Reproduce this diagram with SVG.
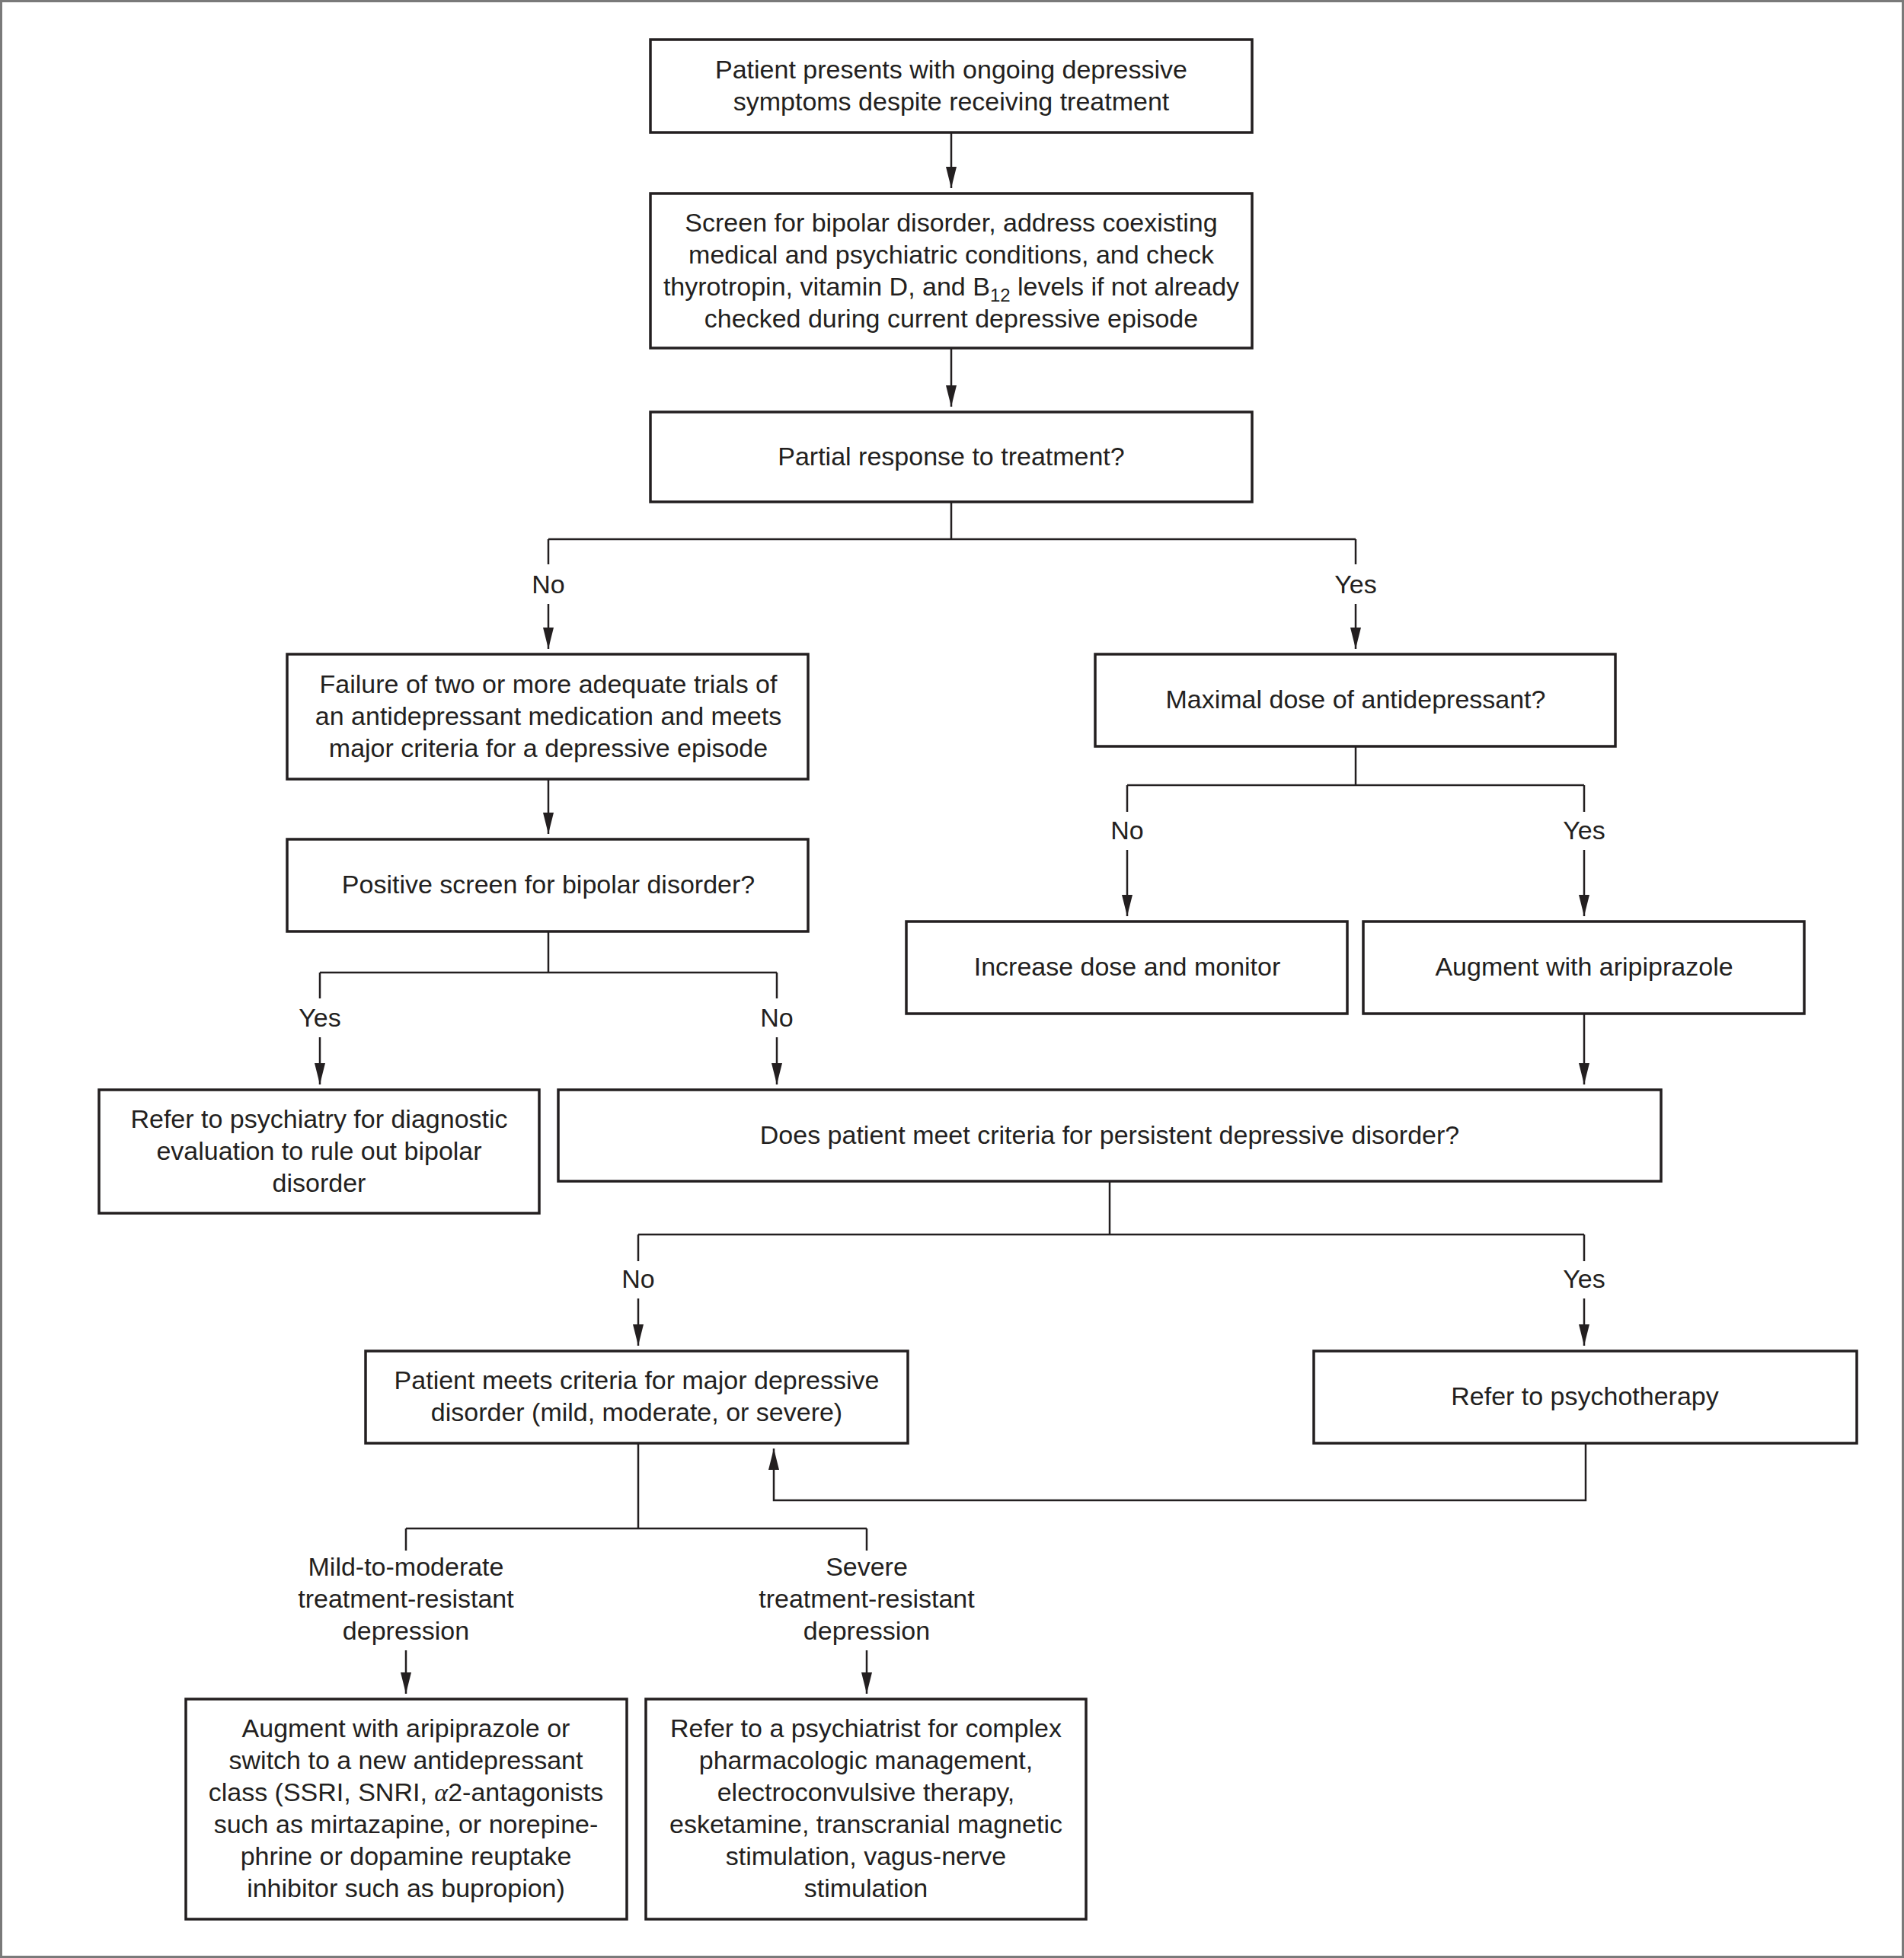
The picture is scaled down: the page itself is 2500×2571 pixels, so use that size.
<svg xmlns="http://www.w3.org/2000/svg" width="2500" height="2571" viewBox="0 0 2500 2571">
<style>
.box{fill:#ffffff;stroke:#231f20;stroke-width:3.5}
.t{font-family:"Liberation Sans",Arial,sans-serif;font-size:34px;fill:#231f20;text-anchor:middle}
.c{fill:none;stroke:#231f20;stroke-width:2.5}
.a{marker-end:url(#ah)}
</style>
<defs>
<marker id="ah" markerUnits="userSpaceOnUse" viewBox="0 0 28 14" refX="28" refY="7" markerWidth="28" markerHeight="14" orient="auto">
<path d="M0,0 L28,7 L0,14 z" fill="#231f20"/>
</marker>
</defs>
<rect x="0" y="0" width="2500" height="2571" fill="#ffffff"/>
<rect x="1.5" y="1.5" width="2497" height="2568" fill="none" stroke="#7a7a7a" stroke-width="3"/>

<g id="connectors">
<path class="c a" d="M1249,174 V247"/>
<path class="c a" d="M1249,457 V534"/>
<path class="c" d="M1249,659 V708 M720,708 H1780 M720,708 V741 M1780,708 V741"/>
<path class="c a" d="M720,793 V852"/>
<path class="c a" d="M1780,793 V852"/>
<path class="c a" d="M720,1023 V1095"/>
<path class="c" d="M720,1223 V1277 M420,1277 H1020 M420,1277 V1311 M1020,1277 V1311"/>
<path class="c a" d="M420,1362 V1424"/>
<path class="c a" d="M1020,1362 V1424"/>
<path class="c" d="M1780,980 V1031 M1480,1031 H2080 M1480,1031 V1066 M2080,1031 V1066"/>
<path class="c a" d="M1480,1116 V1203"/>
<path class="c a" d="M2080,1116 V1203"/>
<path class="c a" d="M2080,1331 V1424"/>
<path class="c" d="M1457,1551 V1621 M838,1621 H2080 M838,1621 V1656 M2080,1621 V1656"/>
<path class="c a" d="M838,1705 V1767"/>
<path class="c a" d="M2080,1705 V1767"/>
<path class="c a" d="M2082,1895 V1970 H1016 V1902"/>
<path class="c" d="M838,1895 V2007 M533,2007 H1138 M533,2007 V2036 M1138,2007 V2036"/>
<path class="c a" d="M533,2167 V2224"/>
<path class="c a" d="M1138,2167 V2224"/>
<text class="t" x="720" y="779">No</text>
<text class="t" x="1780" y="779">Yes</text>
<text class="t" x="420" y="1348">Yes</text>
<text class="t" x="1020" y="1348">No</text>
<text class="t" x="1480" y="1102">No</text>
<text class="t" x="2080" y="1102">Yes</text>
<text class="t" x="838" y="1691">No</text>
<text class="t" x="2080" y="1691">Yes</text>
<text class="t" x="533" y="2069">Mild-to-moderate</text>
<text class="t" x="533" y="2111">treatment-resistant</text>
<text class="t" x="533" y="2153">depression</text>
<text class="t" x="1138" y="2069">Severe</text>
<text class="t" x="1138" y="2111">treatment-resistant</text>
<text class="t" x="1138" y="2153">depression</text>
</g>

<g id="n1">
<rect class="box" x="854" y="52" width="790" height="122"/>
<text class="t" x="1249" y="103">Patient presents with ongoing depressive</text>
<text class="t" x="1249" y="145">symptoms despite receiving treatment</text>
</g>
<g id="n2">
<rect class="box" x="854" y="254" width="790" height="203"/>
<text class="t" x="1249" y="304">Screen for bipolar disorder, address coexisting</text>
<text class="t" x="1249" y="346">medical and psychiatric conditions, and check</text>
<text class="t" x="1249" y="388">thyrotropin, vitamin D, and B<tspan font-size="24" dy="8">12</tspan><tspan dy="-8"> levels if not already</tspan></text>
<text class="t" x="1249" y="430">checked during current depressive episode</text>
</g>
<g id="n3">
<rect class="box" x="854" y="541" width="790" height="118"/>
<text class="t" x="1249" y="611">Partial response to treatment?</text>
</g>
<g id="n4">
<rect class="box" x="377" y="859" width="684" height="164"/>
<text class="t" x="720" y="910">Failure of two or more adequate trials of</text>
<text class="t" x="720" y="952">an antidepressant medication and meets</text>
<text class="t" x="720" y="994">major criteria for a depressive episode</text>
</g>
<g id="n5">
<rect class="box" x="377" y="1102" width="684" height="121"/>
<text class="t" x="720" y="1173">Positive screen for bipolar disorder?</text>
</g>
<g id="n6">
<rect class="box" x="130" y="1431" width="578" height="162"/>
<text class="t" x="419" y="1481">Refer to psychiatry for diagnostic</text>
<text class="t" x="419" y="1523">evaluation to rule out bipolar</text>
<text class="t" x="419" y="1565">disorder</text>
</g>
<g id="n7">
<rect class="box" x="1438" y="859" width="683" height="121"/>
<text class="t" x="1780" y="930">Maximal dose of antidepressant?</text>
</g>
<g id="n8">
<rect class="box" x="1190" y="1210" width="579" height="121"/>
<text class="t" x="1480" y="1281">Increase dose and monitor</text>
</g>
<g id="n9">
<rect class="box" x="1790" y="1210" width="579" height="121"/>
<text class="t" x="2080" y="1281">Augment with aripiprazole</text>
</g>
<g id="n10">
<rect class="box" x="733" y="1431" width="1448" height="120"/>
<text class="t" x="1457" y="1502">Does patient meet criteria for persistent depressive disorder?</text>
</g>
<g id="n11">
<rect class="box" x="480" y="1774" width="712" height="121"/>
<text class="t" x="836" y="1824">Patient meets criteria for major depressive</text>
<text class="t" x="836" y="1866">disorder (mild, moderate, or severe)</text>
</g>
<g id="n12">
<rect class="box" x="1725" y="1774" width="713" height="121"/>
<text class="t" x="2081" y="1845">Refer to psychotherapy</text>
</g>
<g id="n13">
<rect class="box" x="244" y="2231" width="579" height="289"/>
<text class="t" x="533" y="2281">Augment with aripiprazole or</text>
<text class="t" x="533" y="2323">switch to a new antidepressant</text>
<text class="t" x="533" y="2365">class (SSRI, SNRI, <tspan font-family="Liberation Serif" font-style="italic">α</tspan>2-antagonists</text>
<text class="t" x="533" y="2407">such as mirtazapine, or norepine-</text>
<text class="t" x="533" y="2449">phrine or dopamine reuptake</text>
<text class="t" x="533" y="2491">inhibitor such as bupropion)</text>
</g>
<g id="n14">
<rect class="box" x="848" y="2231" width="578" height="289"/>
<text class="t" x="1137" y="2281">Refer to a psychiatrist for complex</text>
<text class="t" x="1137" y="2323">pharmacologic management,</text>
<text class="t" x="1137" y="2365">electroconvulsive therapy,</text>
<text class="t" x="1137" y="2407">esketamine, transcranial magnetic</text>
<text class="t" x="1137" y="2449">stimulation, vagus-nerve</text>
<text class="t" x="1137" y="2491">stimulation</text>
</g>
</svg>
